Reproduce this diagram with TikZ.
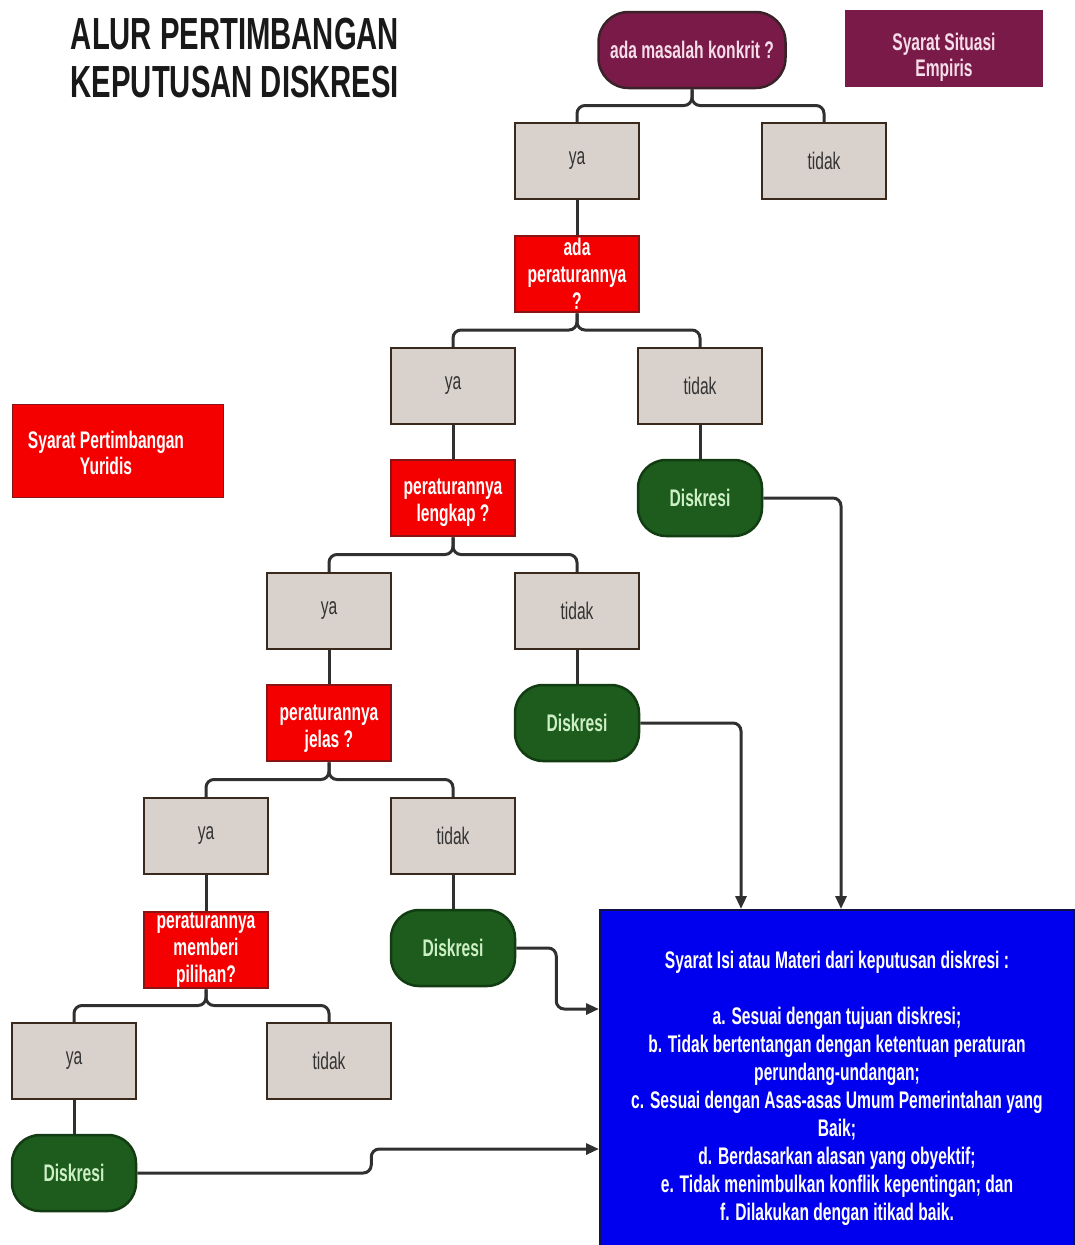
\documentclass[tikz,border=0pt]{standalone}
\usepackage{fontspec}
\setmainfont{Liberation Sans}[FakeStretch=0.65]
\usetikzlibrary{arrows.meta,calc}

\definecolor{maroon}{HTML}{7A1A48}
\definecolor{maroonedge}{HTML}{3A2228}
\definecolor{pinktext}{HTML}{F6DDEA}
\definecolor{qred}{HTML}{F50000}
\definecolor{qedge}{HTML}{8A1414}
\definecolor{choicegrey}{HTML}{D9D1CB}
\definecolor{boxedge}{HTML}{3A2A1E}
\definecolor{textgrey}{HTML}{333333}
\definecolor{okgreen}{HTML}{1D5C1D}
\definecolor{okedge}{HTML}{123C12}
\definecolor{oktext}{HTML}{CDEFC5}
\definecolor{infoblue}{HTML}{0000EE}
\definecolor{infoedge}{HTML}{10104A}
\definecolor{linegrey}{HTML}{303030}

\begin{document}
\begin{tikzpicture}[
                 x = 1pt,
                 y = -1pt,
     choice/.style = {rectangle, draw=boxedge, line width=2.5pt, fill=choicegrey,
                      minimum width=124pt, minimum height=76pt, text=textgrey,
                      font=\fontsize{24}{28}\selectfont},
   question/.style = {choice, fill=qred, draw=qedge, text=white, align=center,
                      inner ysep=0pt, font=\bfseries\fontsize{24}{27}\selectfont},
    outcome/.style = {choice, rounded corners=28pt, fill=okgreen, draw=okedge,
                      text=oktext, font=\bfseries\fontsize{24}{28}\selectfont},
      start/.style = {choice, rounded corners=30pt, fill=maroon, draw=maroonedge,
                      minimum width=187pt, text=pinktext, font=\bfseries\fontsize{24}{28}\selectfont},
     legend/.style = {rectangle, text=white, align=center,
                      font=\bfseries\fontsize{24}{26}\selectfont},
       info/.style = {rectangle, fill=infoblue, draw=infoedge, line width=2pt,
                      minimum width=474pt, minimum height=356pt, text=white, align=center,
                      font=\bfseries\fontsize{24}{28}\selectfont},
     branch/.style = {draw=linegrey, line width=3pt, rounded corners=8pt},
       flow/.style = {branch, -{Triangle[length=13pt,width=11pt]}},
                   ]
\useasboundingbox (0,0) rectangle (1074,1245);

% title and legends
\node[align=center, text=black!90, font=\bfseries\fontsize{45}{48}\selectfont] (title) at (235,58)
    {ALUR PERTIMBANGAN\\KEPUTUSAN DISKRESI};
\node[legend, fill=maroon, text=pinktext, minimum width=198pt, minimum height=77pt] (empiris) at (944,48)
    {\rule{0pt}{36pt}Syarat Situasi\\Empiris};
\node[legend, fill=qred, draw=qedge, line width=1.5pt, minimum width=211pt, minimum height=93pt] (yuridis) at (118,451)
    {\rule{0pt}{21pt}Syarat Pertimbangan\hspace*{24pt}\\Yuridis\hspace*{24pt}};

% decision tree
\node[start] (q0) at (692,50) {ada masalah konkrit ?};
\node[choice] (ya1) at (577,161) {ya};
\node[choice] (no1) at (824,161) {tidak};
\node[question] (q1) at (577,274) {ada\\peraturannya\\?};
\node[choice] (ya2) at (453,386) {ya};
\node[choice] (no2) at (700,386) {tidak};
\node[question] (q2) at (453,498) {\rule{0pt}{26pt}peraturannya\\lengkap ?};
\node[outcome] (d1) at (700,498) {Diskresi};
\node[choice] (ya3) at (329,611) {ya};
\node[choice] (no3) at (577,611) {tidak};
\node[question] (q3) at (329,723) {\rule{0pt}{26pt}peraturannya\\jelas ?};
\node[outcome] (d2) at (577,723) {Diskresi};
\node[choice] (ya4) at (206,836) {ya};
\node[choice] (no4) at (453,836) {tidak};
\node[question] (q4) at (206,950) {peraturannya\\memberi\\pilihan?};
\node[outcome] (d3) at (453,948) {Diskresi};
\node[choice] (ya5) at (74,1061) {ya};
\node[choice] (no5) at (329,1061) {tidak};
\node[outcome] (d4) at (74,1173) {Diskresi};

% syarat isi
\node[info] (isi) at (837,1088) {Syarat Isi atau Materi dari keputusan diskresi :\\[28pt]
    a. Sesuai dengan tujuan diskresi;\\
    b. Tidak bertentangan dengan ketentuan peraturan\\
    perundang-undangan;\\
    c. Sesuai dengan Asas-asas Umum Pemerintahan yang\\
    Baik;\\
    d. Berdasarkan alasan yang obyektif;\\
    e. Tidak menimbulkan konflik kepentingan; dan\\
    f. Dilakukan dengan itikad baik.};

% connectors
\foreach \p/\c in {q0/ya1, q0/no1, q1/ya2, q1/no2, q2/ya3, q2/no3, q3/ya4, q3/no4, q4/ya5, q4/no5}
    \draw[branch] (\c.north) |- ($(\p.south)!.5!(\p.south |- \c.north)$) -- (\p.south);
\foreach \a/\b in {ya1/q1, ya2/q2, ya3/q3, ya4/q4, ya5/d4, no2/d1, no3/d2, no4/d3}
    \draw[branch] (\a.south) -- (\b.north);

\draw[flow] (d1.east) -| ([xshift=242pt]isi.north west);
\draw[flow] (d2.east) -| ([xshift=142pt]isi.north west);
\draw[flow] (d3.east) -- ++(40,0) |- ([yshift=-100pt]isi.north west);
\draw[flow] (d4.east) -- ++(234,0) |- ([yshift=-240pt]isi.north west);
\end{tikzpicture}
\end{document}
